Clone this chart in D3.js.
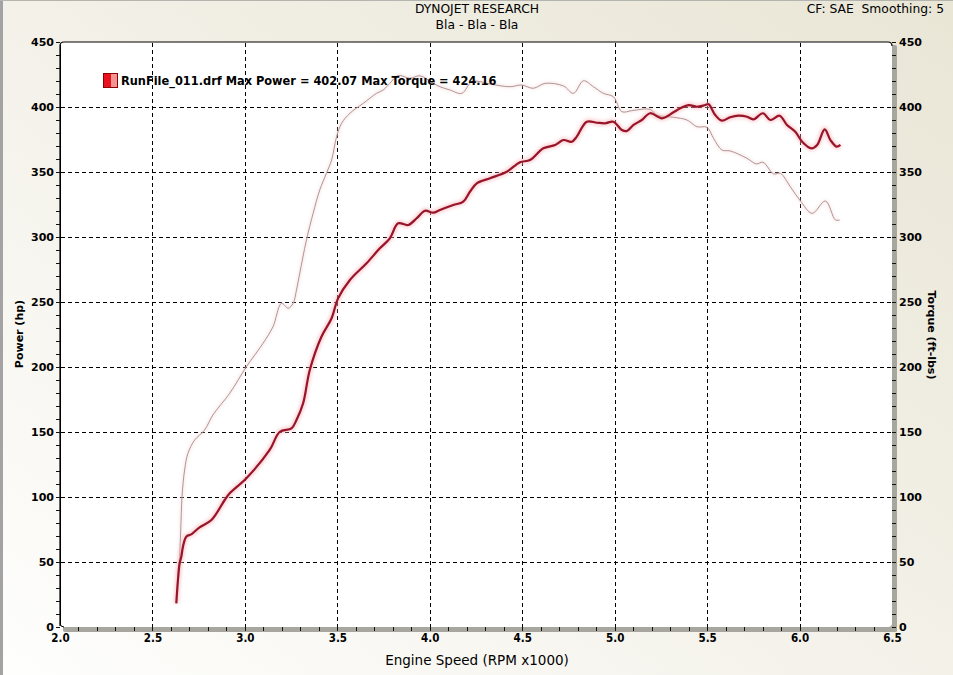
<!DOCTYPE html>
<html>
<head>
<meta charset="utf-8">
<script src="https://cdn.jsdelivr.net/npm/d3@7"></script>
<style>
  html, body { margin: 0; padding: 0; overflow: hidden; background: #ffffff; }
  svg { display: block; }
  text { white-space: pre; }
</style>
</head>
<body>
<svg id="chart" width="953" height="675"></svg>
<script>
// ---------------- DATA ----------------
const chartTitle = "DYNOJET RESEARCH";
const chartSubtitle = "Bla - Bla - Bla";
const cornerInfo = "CF: SAE  Smoothing: 5";
const xAxisTitle = "Engine Speed (RPM x1000)";
const yLeftTitle = "Power (hp)";
const yRightTitle = "Torque (ft-lbs)";
const legendLabel = "RunFile_011.drf Max Power = 402.07 Max Torque = 424.16";

const xTicksMajor = [2.0, 2.5, 3.0, 3.5, 4.0, 4.5, 5.0, 5.5, 6.0, 6.5];
const yTicksMajor = [0, 50, 100, 150, 200, 250, 300, 350, 400, 450];

// Power (hp) : [rpm x1000, hp]
const powerRpm = [2.629, 2.638, 2.647, 2.656, 2.665, 2.683, 2.712, 2.755, 2.819, 2.891, 2.918, 3.008,
  3.134, 3.189, 3.252, 3.279, 3.315, 3.351, 3.414, 3.469, 3.504, 3.568, 3.658, 3.730, 3.784, 3.829,
  3.883, 3.929, 3.974, 4.019, 4.055, 4.127, 4.181, 4.217, 4.254, 4.326, 4.416, 4.488, 4.542, 4.614,
  4.678, 4.723, 4.768, 4.795, 4.849, 4.904, 4.949, 4.993, 5.039, 5.066, 5.102, 5.147, 5.192, 5.256,
  5.318, 5.355, 5.400, 5.445, 5.490, 5.508, 5.544, 5.580, 5.625, 5.669, 5.716, 5.750, 5.802, 5.842,
  5.892, 5.932, 5.977, 6.014, 6.064, 6.095, 6.136, 6.167, 6.200, 6.221];
const powerHp = [18.2, 36.2, 49.0, 54.0, 61.8, 69.5, 71.5, 76.7, 82.3, 97.7, 102.8, 114.4,
  136.2, 150.2, 152.8, 159.2, 172.1, 197.7, 223.3, 237.5, 252.8, 266.9, 279.8, 291.3, 299.0, 310.5,
  309.2, 314.4, 320.2, 318.7, 320.8, 324.6, 327.2, 334.8, 341.3, 345.2, 350.2, 357.5, 359.2, 368.2,
  370.8, 374.6, 373.3, 377.2, 388.7, 387.9, 387.5, 388.7, 382.3, 381.5, 386.2, 390.0, 395.2, 391.3,
  395.9, 399.0, 401.5, 400.2, 401.5, 402.1, 393.8, 389.5, 392.1, 393.3, 392.5, 390.5, 395.2, 390.0,
  393.3, 386.2, 381.0, 373.3, 368.2, 370.8, 382.8, 374.6, 369.5, 370.8];

// Torque (ft-lbs) : [rpm x1000, ft-lbs]
const torqueRpm = [2.638, 2.647, 2.653, 2.660, 2.674, 2.692, 2.728, 2.782, 2.827, 2.918, 3.008, 3.098,
  3.152, 3.198, 3.234, 3.261, 3.279, 3.297, 3.333, 3.369, 3.405, 3.441, 3.469, 3.496, 3.523, 3.568,
  3.640, 3.712, 3.748, 3.784, 3.829, 3.893, 3.947, 4.019, 4.055, 4.109, 4.173, 4.227, 4.272, 4.326,
  4.434, 4.497, 4.560, 4.624, 4.723, 4.777, 4.831, 4.885, 4.939, 4.993, 5.039, 5.093, 5.192, 5.228,
  5.318, 5.391, 5.445, 5.499, 5.535, 5.580, 5.625, 5.716, 5.766, 5.802, 5.860, 5.896, 5.950, 6.004,
  6.068, 6.140, 6.194, 6.217];
const torqueFtLbs = [38.7, 54.0, 74.6, 100.2, 120.8, 133.6, 143.8, 151.5, 163.1, 179.8, 200.2, 218.2,
  231.0, 249.0, 245.2, 249.0, 259.2, 272.3, 297.7, 318.2, 336.2, 349.0, 359.2, 377.2, 387.5, 395.2,
  402.8, 410.5, 413.1, 418.2, 424.2, 422.1, 424.0, 418.2, 415.6, 413.1, 410.5, 419.5, 419.5, 417.7,
  415.6, 416.9, 414.4, 418.2, 416.2, 410.5, 420.2, 415.6, 410.5, 407.9, 396.4, 397.2, 398.2, 393.8,
  392.1, 390.0, 384.8, 384.4, 375.9, 366.9, 366.2, 360.5, 356.2, 357.5, 348.5, 349.0, 338.7, 327.9,
  318.2, 327.7, 313.1, 313.1];

// ---------------- LAYOUT ----------------
const W = 953, H = 675;
const L = 60, R = 892, T = 42, B = 627;
const svg = d3.select("#chart");

const x = d3.scaleLinear().domain([2.0, 6.5]).range([L, R]);
const y = d3.scaleLinear().domain([0, 450]).range([B, T]);

const defs = svg.append("defs");
const bg = defs.append("linearGradient").attr("id", "bgGrad")
  .attr("x1", "0%").attr("y1", "100%").attr("x2", "100%").attr("y2", "0%");
bg.append("stop").attr("offset", "0%").attr("stop-color", "#fefefd");
bg.append("stop").attr("offset", "45%").attr("stop-color", "#f4f2ea");
bg.append("stop").attr("offset", "100%").attr("stop-color", "#e9e6d6");

const glow = defs.append("filter").attr("id", "glow")
  .attr("x", "-5%").attr("y", "-5%").attr("width", "110%").attr("height", "110%");
glow.append("feGaussianBlur").attr("stdDeviation", 1.4);

// helper: fit a text element to a target width (bounded size change)
function fitWidth(sel, target, base) {
  const w = sel.node().getComputedTextLength();
  if (w > 0) sel.attr("font-size", Math.max(base * 0.85, Math.min(base * 1.12, base * target / w)));
  return sel;
}

// Background
svg.append("rect").attr("x", 0).attr("y", 0).attr("width", W).attr("height", H).attr("fill", "url(#bgGrad)");
svg.append("rect").attr("x", 0).attr("y", 0).attr("width", 3).attr("height", H).attr("fill", "#a3a3a3");
svg.append("rect").attr("x", 0).attr("y", 0).attr("width", W).attr("height", 1).attr("fill", "#b5b5b0");

// Shadow bands (right & bottom)
svg.append("rect").attr("x", R - 2).attr("y", T + 3).attr("width", 7).attr("height", B - T + 2)
  .attr("rx", 2).attr("fill", "#a7a79f");
svg.append("rect").attr("x", L + 3).attr("y", B - 2).attr("width", R - L + 2).attr("height", 7)
  .attr("rx", 2).attr("fill", "#a7a79f");

// Plot area
svg.append("rect").attr("x", L).attr("y", T).attr("width", R - L).attr("height", B - T)
  .attr("rx", 4).attr("fill", "#ffffff");
svg.append("path")
  .attr("d", `M${L},${B - 1} L${L},${T + 4} Q${L},${T} ${L + 4},${T} L${R - 4},${T} Q${R},${T} ${R},${T + 4}`)
  .attr("fill", "none").attr("stroke", "#000").attr("stroke-width", 1.2);
svg.append("path")
  .attr("d", `M${L},${B - 4} Q${L},${B} ${L + 4},${B}`)
  .attr("fill", "none").attr("stroke", "#000").attr("stroke-width", 1);

// Grid
const grid = svg.append("g").attr("stroke", "#000").attr("stroke-width", 1)
  .attr("stroke-dasharray", "4,3").attr("shape-rendering", "crispEdges");
grid.selectAll("line.h").data(yTicksMajor.filter(v => v > 0 && v < 450)).join("line")
  .attr("x1", L + 1).attr("x2", R).attr("y1", d => Math.round(y(d)) + 0.5).attr("y2", d => Math.round(y(d)) + 0.5);
grid.selectAll("line.v").data(xTicksMajor.filter(v => v > 2.0 && v < 6.5)).join("line")
  .attr("y1", T + 1).attr("y2", B).attr("x1", d => Math.round(x(d)) + 0.5).attr("x2", d => Math.round(x(d)) + 0.5);

// Axes
const minorY = d3.range(0, 451, 10);
const minorX = d3.range(20, 66, 1).map(v => v / 10);
const yFmt = d => (d % 50 === 0 ? String(d) : "");
const xFmt = d => (Math.abs(d * 2 - Math.round(d * 2)) < 1e-6 ? d3.format(".1f")(d) : "");

const axL = svg.append("g").attr("transform", `translate(${L},0)`)
  .call(d3.axisLeft(y).tickValues(minorY).tickSize(4).tickPadding(2).tickFormat(yFmt));
const axR = svg.append("g").attr("transform", `translate(${R},0)`)
  .call(d3.axisRight(y).tickValues(minorY).tickSize(4).tickPadding(3).tickFormat(yFmt));
const axB = svg.append("g").attr("transform", `translate(0,${B})`)
  .call(d3.axisBottom(x).tickValues(minorX).tickSize(4).tickPadding(3).tickFormat(xFmt));
[axL, axR, axB].forEach(a => {
  a.select(".domain").remove();
  a.selectAll(".tick line").attr("stroke", "#111").attr("shape-rendering", "crispEdges");
  a.selectAll(".tick text").attr("fill", "#000").attr("font-family", "'DejaVu Sans', Verdana, sans-serif")
    .attr("font-weight", "bold").attr("font-size", 11);
});
axB.selectAll(".tick text").attr("font-family", "'DejaVu Sans Condensed', 'DejaVu Sans', sans-serif")
  .attr("font-size", 11.5);
axB.selectAll(".tick").filter(d => Math.abs(d - 2.0) < 1e-6 || Math.abs(d - 6.5) < 1e-6).select("line").remove();
svg.append("line").attr("x1", L + 0.5).attr("x2", L + 0.5).attr("y1", T + 3).attr("y2", B - 3)
  .attr("stroke", "#000");
axL.selectAll(".tick text").attr("dy", "0.36em");
axR.selectAll(".tick text").attr("dy", "0.36em");

// Curves
const line = d3.line().x(d => x(d[0])).y(d => y(d[1])).curve(d3.curveCatmullRom.alpha(0.5));
const powerData = powerRpm.map((r, i) => [r, powerHp[i]]);
const torqueData = torqueRpm.map((r, i) => [r, torqueFtLbs[i]]);

const plot = svg.append("g");
plot.append("path").datum(torqueData).attr("d", line).attr("fill", "none")
  .attr("stroke", "#f0d0d0").attr("stroke-width", 3).attr("opacity", 0.45).attr("filter", "url(#glow)");
plot.append("path").datum(torqueData).attr("d", line).attr("fill", "none")
  .attr("stroke", "#b49494").attr("stroke-width", 1);

plot.append("path").datum(powerData).attr("d", line).attr("fill", "none")
  .attr("stroke", "#f7b6bc").attr("stroke-width", 6).attr("opacity", 0.55).attr("filter", "url(#glow)")
  .attr("stroke-linejoin", "round");
plot.append("path").datum(powerData).attr("d", line).attr("fill", "none")
  .attr("stroke", "#981428").attr("stroke-width", 2.2).attr("stroke-linejoin", "round");

// Legend
const lg = svg.append("g");
lg.append("rect").attr("x", 103.5).attr("y", 73.5).attr("width", 14).attr("height", 14)
  .attr("fill", "#f29494").attr("stroke", "#8a0000");
lg.append("rect").attr("x", 104).attr("y", 74).attr("width", 7).attr("height", 13).attr("fill", "#e8121e");
const lt = lg.append("text").attr("x", 121).attr("y", 84.5)
  .attr("font-family", "'DejaVu Sans', Verdana, sans-serif").attr("font-weight", "bold")
  .attr("font-size", 11).attr("fill", "#000").text(legendLabel);
fitWidth(lt, 376, 11);

// Titles
const titleFont = "'DejaVu Sans', Verdana, sans-serif";
fitWidth(svg.append("text").attr("x", 477).attr("y", 13).attr("text-anchor", "middle")
  .attr("font-family", titleFont).attr("font-size", 11).attr("fill", "#000").text(chartTitle), 127, 11);
fitWidth(svg.append("text").attr("x", 477).attr("y", 28.5).attr("text-anchor", "middle")
  .attr("font-family", titleFont).attr("font-size", 11).attr("fill", "#000").text(chartSubtitle), 89, 11);
fitWidth(svg.append("text").attr("x", 944).attr("y", 13).attr("text-anchor", "end")
  .attr("font-family", titleFont).attr("font-size", 11).attr("fill", "#000").text(cornerInfo), 139, 11);

fitWidth(svg.append("text").attr("x", 477).attr("y", 665).attr("text-anchor", "middle")
  .attr("font-family", titleFont).attr("font-size", 12.5).attr("fill", "#000").text(xAxisTitle), 184, 12.5);

svg.append("text").attr("transform", `translate(23,334) rotate(-90)`).attr("text-anchor", "middle")
  .attr("font-family", "'DejaVu Sans', Verdana, sans-serif").attr("font-weight", "bold").attr("font-size", 11)
  .attr("fill", "#000").text(yLeftTitle);
svg.append("text").attr("transform", `translate(928,335) rotate(90)`).attr("text-anchor", "middle")
  .attr("font-family", "'DejaVu Sans', Verdana, sans-serif").attr("font-weight", "bold").attr("font-size", 11)
  .attr("fill", "#000").text(yRightTitle);
</script>
</body>
</html>
